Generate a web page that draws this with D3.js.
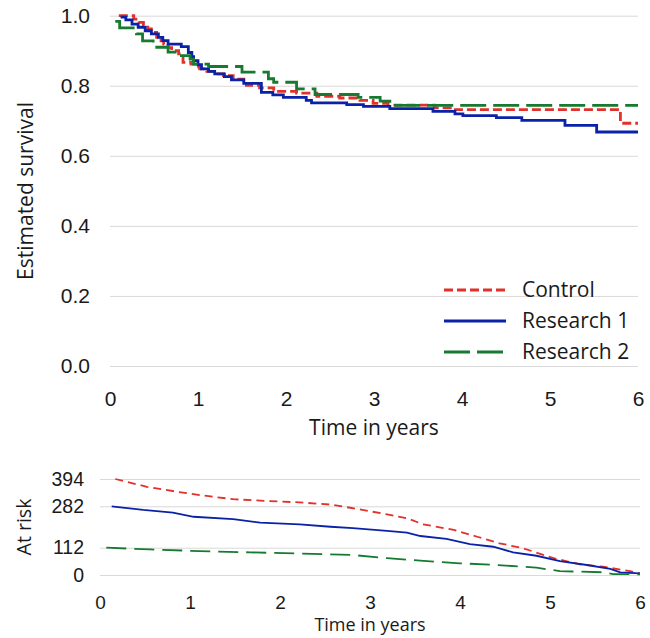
<!DOCTYPE html>
<html>
<head>
<meta charset="utf-8">
<script src="https://cdn.jsdelivr.net/npm/d3@7"></script>
<style>
    body { margin: 0; background: #fff; }
    svg { font-family: "Open Sans", "Noto Sans", sans-serif; }
    .grid line { stroke: #d9d9d9; stroke-width: 1; }
    .tick text { fill: #1a1a1a; }
</style>
</head>
<body>
<div id="graphic"></div>
<script>
//data
var years = [0, 1, 2, 3, 4, 5, 6];
var survivalTicks = [0, 0.2, 0.4, 0.6, 0.8, 1.0];
var atRiskTicks = [0, 112, 282, 394];
var seriesNames = ["Control", "Research 1", "Research 2"];

//kaplan-meier estimates [years, survival]
var controlSurvival = [[0.10,1.0],[0.27,0.990],[0.33,0.981],[0.38,0.972],[0.43,0.962],[0.47,0.952],
    [0.53,0.938],[0.58,0.928],[0.61,0.919],[0.66,0.909],[0.70,0.900],[0.78,0.891],[0.83,0.867],
    [0.92,0.862],[0.97,0.853],[1.02,0.848],[1.10,0.841],[1.20,0.834],[1.29,0.829],[1.40,0.819],
    [1.52,0.810],[1.55,0.801],[1.70,0.794],[1.86,0.784],[2.12,0.779],[2.35,0.770],[2.61,0.765],
    [2.84,0.758],[2.99,0.750],[3.16,0.745],[3.69,0.737],[3.90,0.732],[5.80,0.693],[6.0,0.693]];

var research1Survival = [[0.12,0.996],[0.18,0.988],[0.25,0.976],[0.32,0.967],[0.40,0.957],[0.47,0.948],
    [0.55,0.938],[0.60,0.929],[0.66,0.919],[0.81,0.912],[0.89,0.895],[0.93,0.883],[0.95,0.872],
    [1.00,0.860],[1.04,0.848],[1.12,0.841],[1.19,0.834],[1.30,0.826],[1.38,0.817],[1.52,0.807],
    [1.72,0.781],[1.85,0.774],[1.97,0.767],[2.23,0.758],[2.29,0.751],[2.69,0.746],[2.88,0.741],
    [3.18,0.735],[3.67,0.727],[3.92,0.720],[4.01,0.715],[4.39,0.709],[4.68,0.701],[5.17,0.687],
    [5.53,0.668],[6.0,0.668]];

var research2Survival = [[0.06,0.984],[0.11,0.965],[0.30,0.948],[0.37,0.928],[0.49,0.910],[0.66,0.896],
    [0.78,0.886],[0.91,0.876],[0.95,0.862],[1.12,0.855],[1.50,0.839],[1.80,0.820],[1.86,0.810],
    [2.12,0.791],[2.33,0.775],[2.82,0.767],[3.07,0.756],[3.18,0.744],[6.0,0.744]];

//numbers at risk [years, count]
var controlAtRisk = [[0.17,394],[0.52,362],[0.85,342],[1.11,328],[1.48,311],[1.85,304],[2.22,298],
    [2.56,289],[2.78,276],[3.19,249],[3.41,233],[3.59,208],[3.93,185],[4.19,157],[4.44,130],
    [4.70,110],[5.04,69],[5.33,44],[5.59,34],[5.89,16],[6.0,7]];

var research1AtRisk = [[0.13,282],[0.48,267],[0.81,256],[1.04,239],[1.48,229],[1.78,215],[2.22,208],
    [2.56,198],[2.81,192],[3.19,181],[3.41,174],[3.56,160],[3.85,148],[4.11,127],[4.37,116],
    [4.59,93],[4.85,79],[5.11,57],[5.41,41],[5.67,25],[5.78,11],[6.0,7]];

var research2AtRisk = [[0.07,112],[0.56,105],[1.11,98],[1.67,93],[2.56,85],[2.81,82],[3.19,69],
    [3.56,59],[4.0,48],[4.41,41],[4.85,30],[5.11,16],[5.59,11],[5.70,4],[6.0,3]];

var colors = { 'red': '#e2302b', 'blue': '#0a22a8', 'green': '#167a31', 'text': '#1a1a1a' };

var styles = [
    { color: colors.red, dash: "9,4", smallDash: "8,5" },
    { color: colors.blue, dash: null, smallDash: null },
    { color: colors.green, dash: "26,7", smallDash: "20,8" }
];

var svg = d3.select("#graphic").append("svg")
    .attr("width", 650)
    .attr("height", 638);

/*
 * survival panel
 */
var x = d3.scaleLinear().domain([0, 6]).range([110, 638]);
var y = d3.scaleLinear().domain([0, 1]).range([366, 15.7]);

svg.append("g")
    .attr("class", "grid")
    .attr("transform", "translate(110,0)")
    .call(d3.axisLeft(y).tickValues(survivalTicks).tickFormat(d3.format(".1f"))
        .tickSize(-(638 - 110)).tickPadding(20))
    .call(function(g) { g.select(".domain").remove(); })
    .selectAll("text").style("font-size", "21px");

svg.append("g")
    .attr("transform", "translate(0,366)")
    .call(d3.axisBottom(x).tickValues(years).tickFormat(d3.format("d")).tickSize(0).tickPadding(25))
    .call(function(g) { g.select(".domain").remove(); })
    .selectAll("text").style("font-size", "21px");

svg.append("text")
    .attr("x", 374)
    .attr("y", 435)
    .attr("text-anchor", "middle")
    .style("font-size", "21px")
    .style("fill", colors.text)
    .text("Time in years");

svg.append("text")
    .attr("transform", "translate(33,191) rotate(-90)")
    .attr("text-anchor", "middle")
    .style("font-size", "21px")
    .style("fill", colors.text)
    .text("Estimated survival");

var kmLine = d3.line()
    .x(function(d) { return x(d[0]); })
    .y(function(d) { return y(d[1]); })
    .curve(d3.curveStepAfter);

svg.selectAll(".km")
    .data([controlSurvival, research1Survival, research2Survival])
    .enter().append("path")
        .attr("class", "km")
        .attr("d", kmLine)
        .style("fill", "none")
        .style("stroke", function(d, i) { return styles[i].color; })
        .style("stroke-width", 2.8)
        .style("stroke-dasharray", function(d, i) { return styles[i].dash; });

//legend
var legend = svg.append("g")
    .attr("class", "legend")
    .attr("transform", "translate(444,290)");

var spacing = 31;

legend.selectAll("line")
    .data(seriesNames)
    .enter().append("line")
        .attr("x1", 0)
        .attr("x2", 62)
        .attr("y1", function(d, i) { return i * spacing; })
        .attr("y2", function(d, i) { return i * spacing; })
        .style("stroke", function(d, i) { return styles[i].color; })
        .style("stroke-width", 2.8)
        .style("stroke-dasharray", function(d, i) { return styles[i].dash; });

legend.selectAll("text")
    .data(seriesNames)
    .enter().append("text")
        .text(function(d) { return d; })
        .attr("x", 78)
        .attr("y", function(d, i) { return i * spacing; })
        .attr("dy", "0.35em")
        .style("font-size", "21px")
        .style("fill", colors.text);

/*
 * at risk panel
 */
var x2 = d3.scaleLinear().domain([0, 6]).range([100, 640]);
var y2 = d3.scaleLinear().domain([0, 394]).range([575, 479]);

svg.append("g")
    .attr("class", "grid")
    .attr("transform", "translate(100,0)")
    .call(d3.axisLeft(y2).tickValues(atRiskTicks).tickSize(-(640 - 100)).tickPadding(16))
    .call(function(g) { g.select(".domain").remove(); })
    .selectAll("text").style("font-size", "19.5px");

svg.append("g")
    .attr("transform", "translate(0,575)")
    .call(d3.axisBottom(x2).tickValues(years).tickFormat(d3.format("d")).tickSize(0).tickPadding(21))
    .call(function(g) { g.select(".domain").remove(); })
    .selectAll("text").style("font-size", "19px");

svg.append("text")
    .attr("x", 370)
    .attr("y", 631)
    .attr("text-anchor", "middle")
    .style("font-size", "18px")
    .style("fill", colors.text)
    .text("Time in years");

svg.append("text")
    .attr("transform", "translate(31,527) rotate(-90)")
    .attr("text-anchor", "middle")
    .style("font-size", "19.5px")
    .style("fill", colors.text)
    .text("At risk");

var riskLine = d3.line()
    .x(function(d) { return x2(d[0]); })
    .y(function(d) { return y2(d[1]); });

svg.selectAll(".risk")
    .data([controlAtRisk, research1AtRisk, research2AtRisk])
    .enter().append("path")
        .attr("class", "risk")
        .attr("d", riskLine)
        .style("fill", "none")
        .style("stroke", function(d, i) { return styles[i].color; })
        .style("stroke-width", 1.8)
        .style("stroke-dasharray", function(d, i) { return styles[i].smallDash; });
</script>
</body>
</html>
